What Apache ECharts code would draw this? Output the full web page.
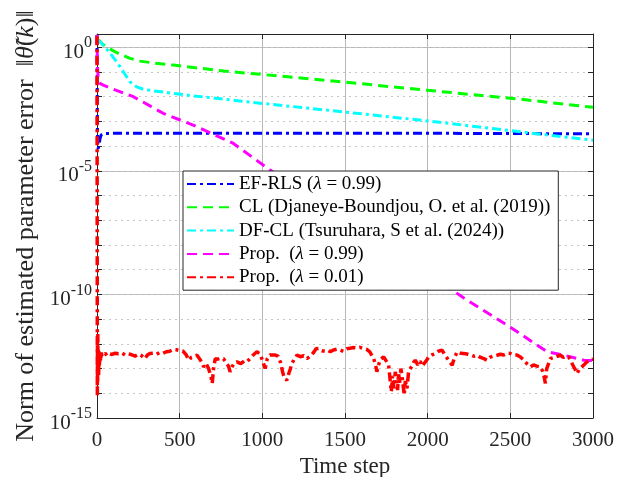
<!DOCTYPE html>
<html><head><meta charset="utf-8">
<script src="https://cdn.jsdelivr.net/npm/echarts@6/dist/echarts.min.js"></script>
<style>html,body{margin:0;padding:0;background:#fff}#c{width:634px;height:477px}</style>
</head><body><div id="c"></div>
<script>
// values are log10 of the error norm
const seriesNames = ['EF-RLS (λ = 0.99)', 'CL (Djaneye-Boundjou, O. et al. (2019))', 'DF-CL (Tsuruhara, S et al. (2024))', 'Prop.  (λ = 0.99)', 'Prop.  (λ = 0.01)'];
const xTicks = [0, 500, 1000, 1500, 2000, 2500, 3000];
const yTickExps = [-15, -10, -5, 0];

const efT   = [0, 1, 3, 6, 12, 18, 25, 40, 100, 500, 1000, 1500, 2000, 2500, 3000];
const efLog = [0.5, -1.0, -3.5, -4.1, -4.0, -3.7, -3.55, -3.49, -3.48, -3.48, -3.48, -3.48, -3.48, -3.49, -3.5];

const clT   = [0, 14, 30, 60, 120, 200, 260, 350, 460, 765, 1000, 1500, 2000, 2560, 3000];
const clLog = [0.3, 0.27, 0.15, 0.0, -0.22, -0.45, -0.56, -0.64, -0.72, -0.96, -1.1, -1.41, -1.74, -2.1, -2.43];

const dfT   = [0, 18, 50, 80, 120, 160, 200, 240, 280, 340, 480, 563, 1000, 1500, 2000, 2560, 3000];
const dfLog = [0.3, 0.22, 0.0, -0.25, -0.6, -1.0, -1.4, -1.6, -1.7, -1.76, -1.88, -1.95, -2.27, -2.62, -2.98, -3.42, -3.76];

const p99T   = [0, 3, 8, 15, 38, 100, 220, 400, 600, 825, 1047, 1500, 2000, 2238, 2480, 2723, 2823, 2944, 3000];
const p99Log = [0.5, -0.8, -1.35, -1.45, -1.53, -1.7, -2.0, -2.67, -3.2, -3.89, -4.97, -6.95, -9.15, -10.23, -11.24, -12.32, -12.46, -12.66, -12.68];

const p01T = [0,1,2,3,4,5,6,8,10,12,15,18,22,26,30,40,50,60,75,90,110,130,150,170,190,210,230,250,270,290,305,320,340,360,380,400,420,440,460,480,500,520,540,555,570,590,605,620,635,645,660,675,690,697,705,715,730,750,765,780,795,805,815,830,846,870,890,906,925,945,967,985,1000,1010,1017,1030,1045,1057,1075,1095,1110,1125,1135,1148,1160,1170,1179,1195,1209,1230,1250,1270,1290,1310,1325,1340,1360,1380,1395,1411,1430,1450,1471,1490,1510,1530,1552,1570,1590,1610,1633,1650,1665,1673,1685,1693,1700,1715,1734,1750,1764,1772,1780,1788,1796,1804,1812,1818,1824,1832,1838,1845,1852,1858,1865,1875,1885,1895,1905,1915,1925,1940,1955,1965,1976,1990,2006,2025,2045,2065,2087,2100,2115,2130,2148,2160,2178,2200,2230,2260,2280,2299,2320,2340,2359,2375,2395,2420,2440,2460,2480,2500,2520,2540,2561,2580,2600,2622,2640,2660,2682,2695,2705,2712,2720,2743,2765,2785,2803,2820,2840,2853,2870,2885,2898,2904,2915,2930,2944,2960,2975,2990,3000];
const p01Log = [0.45,-6,-14.1,-12.0,-13.6,-11.6,-12.9,-12.2,-13.3,-12.3,-12.9,-12.4,-12.7,-12.35,-12.5,-12.45,-12.38,-12.48,-12.4,-12.43,-12.38,-12.4,-12.37,-12.45,-12.4,-12.44,-12.5,-12.42,-12.48,-12.6,-12.45,-12.39,-12.38,-12.42,-12.35,-12.38,-12.32,-12.3,-12.23,-12.24,-12.27,-12.29,-12.45,-12.66,-12.55,-12.5,-12.46,-12.6,-12.75,-12.93,-12.8,-13.0,-13.35,-13.6,-13.0,-12.6,-12.62,-12.58,-12.6,-12.75,-12.9,-13.13,-12.95,-12.78,-12.73,-12.8,-12.7,-12.73,-12.6,-12.45,-12.32,-12.4,-12.65,-12.85,-13.0,-12.6,-12.45,-12.39,-12.45,-12.5,-12.75,-13.2,-13.4,-13.47,-13.2,-13.0,-12.79,-12.6,-12.46,-12.52,-12.48,-12.59,-12.5,-12.35,-12.2,-12.19,-12.28,-12.3,-12.26,-12.32,-12.25,-12.22,-12.25,-12.3,-12.2,-12.18,-12.15,-12.17,-12.14,-12.19,-12.23,-12.32,-12.5,-12.59,-12.85,-13.13,-12.9,-12.62,-12.53,-12.7,-12.86,-13.4,-13.94,-13.3,-13.8,-13.13,-13.5,-13.87,-13.2,-13.6,-13.0,-13.3,-13.7,-14.08,-13.5,-13.8,-13.1,-13.13,-12.9,-12.75,-12.66,-12.85,-12.7,-12.9,-12.86,-12.7,-12.53,-12.45,-12.4,-12.3,-12.25,-12.4,-12.55,-12.7,-12.86,-12.6,-12.32,-12.38,-12.4,-12.45,-12.5,-12.46,-12.55,-12.6,-12.66,-12.55,-12.5,-12.46,-12.42,-12.45,-12.38,-12.39,-12.45,-12.45,-12.53,-12.65,-12.8,-12.93,-12.85,-12.9,-12.93,-13.1,-13.35,-13.6,-13.0,-12.59,-12.55,-12.5,-12.46,-12.55,-12.5,-12.53,-12.75,-12.95,-13.1,-13.2,-13.05,-12.95,-12.86,-12.75,-12.68,-12.63,-12.62];

function pairs(t, l) { return t.map((v, i) => [v, Math.pow(10, l[i])]); }

const FONT = "'Liberation Serif','Times New Roman',serif";
const AX = '#262626';
const yMin = 1e-15, yMax = 3.45;

function yLabel(v) {
  const e = Math.log10(v), r = Math.round(e);
  if (Math.abs(e - r) > 0.01 || yTickExps.indexOf(r) < 0) return '';
  return '{b|10}{s|' + r + '}';
}

const chart = echarts.init(document.getElementById('c'), null, {renderer: 'canvas'});
const dashDot = [9, 4, 3, 4], dash = [10, 6];
function mk(name, data, color, type, w) {
  return {name, type: 'line', data, symbol: 'none', showSymbol: false, smooth: false,
    lineStyle: {color, width: w || 3, type}, itemStyle: {color}, animation: false};
}
chart.setOption({
  animation: false,
  backgroundColor: '#fff',
  grid: {left: 97, right: 41, top: 34, bottom: 59, containLabel: false, outerBoundsMode: 'none'},
  legend: {
    left: 183, top: 171, orient: 'vertical',
    backgroundColor: '#fff', borderColor: AX, borderWidth: 1, borderRadius: 0,
    padding: [3, 8, 3, 3], itemGap: 3.3, itemWidth: 47, itemHeight: 20,
    itemStyle: {opacity: 0},
    formatter: n => n.replace('λ', '{i|λ}'),
    textStyle: {fontFamily: FONT, fontSize: 19, lineHeight: 20, color: '#000',
      rich: {i: {fontFamily: FONT, fontSize: 19, lineHeight: 20, fontStyle: 'italic', color: '#000'}}},
    data: seriesNames
  },
  xAxis: [{
    type: 'value', min: 0, max: 3000, interval: 500, position: 'bottom',
    axisLine: {show: true, lineStyle: {color: AX, width: 1}},
    axisTick: {show: true, inside: true, length: 5, lineStyle: {color: AX}},
    axisLabel: {fontFamily: FONT, fontSize: 21, color: AX, margin: 12,
      formatter: v => xTicks.indexOf(v) >= 0 ? String(v) : ''},
    splitLine: {show: true, lineStyle: {color: '#b8b8b8', width: 1}},
    name: 'Time step', nameLocation: 'middle', nameGap: 37,
    nameTextStyle: {fontFamily: FONT, fontSize: 23, color: AX}
  }, {
    type: 'value', min: 0, max: 3000, interval: 500, position: 'top',
    axisLine: {show: true, onZero: false, lineStyle: {color: AX, width: 1}},
    axisTick: {show: true, inside: true, length: 5, lineStyle: {color: AX}},
    axisLabel: {show: false}, splitLine: {show: false}
  }],
  yAxis: [{
    type: 'log', logBase: 10, min: yMin, max: yMax, interval: 5, position: 'left',
    axisLine: {show: true, onZero: false, lineStyle: {color: AX, width: 1}},
    axisTick: {show: false},
    axisLabel: {fontFamily: FONT, color: AX, margin: 5, formatter: yLabel,
      rich: {b: {fontFamily: FONT, fontSize: 21, color: AX, padding: [10, 0, 0, 0]},
             s: {fontFamily: FONT, fontSize: 16, color: AX, padding: [0, 0, 8, 0]}}},
    splitLine: {show: true, lineStyle: {color: '#b8b8b8', width: 1}},
    name: '{n|Norm of estimated parameter error  ‖}{i|θ̃}{n|(}{i|k}{n|)‖}',
    nameLocation: 'middle', nameGap: 51, nameRotate: 90,
    nameTextStyle: {fontFamily: FONT, fontSize: 26, color: AX,
      rich: {n: {fontFamily: FONT, fontSize: 26, color: AX},
             i: {fontFamily: FONT, fontSize: 26, color: AX, fontStyle: 'italic'}}}
  }, {
    type: 'log', logBase: 10, min: yMin, max: yMax, interval: 1, position: 'right',
    axisLine: {show: true, onZero: false, lineStyle: {color: AX, width: 1}},
    axisTick: {show: true, inside: true, length: 5, lineStyle: {color: AX}},
    axisLabel: {show: false},
    splitLine: {show: true, lineStyle: {color: '#c8c8c8', width: 1, type: [2, 4]}}
  }, {
    type: 'log', logBase: 10, min: yMin, max: yMax, interval: 1, position: 'left',
    axisLine: {show: false},
    axisTick: {show: true, inside: true, length: 5, lineStyle: {color: AX}},
    axisLabel: {show: false}, splitLine: {show: false}
  }],
  series: [
    mk(seriesNames[0], pairs(efT, efLog), '#0000ff', dashDot),
    mk(seriesNames[1], pairs(clT, clLog), '#00ff00', dash),
    mk(seriesNames[2], pairs(dfT, dfLog), '#00ffff', dashDot),
    mk(seriesNames[3], pairs(p99T, p99Log), '#ff00ff', dash),
    mk(seriesNames[4], pairs(p01T, p01Log), '#ff0000', dashDot, 3.5)
  ]
});
</script></body></html>
